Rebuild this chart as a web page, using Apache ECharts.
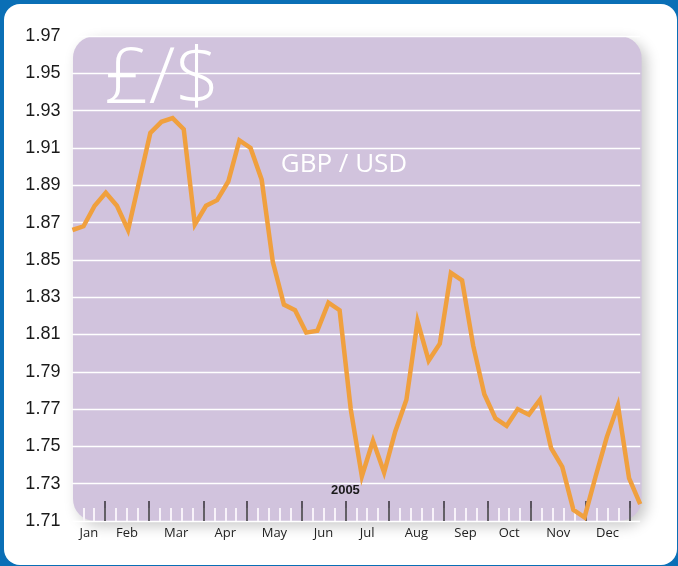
<!DOCTYPE html>
<html><head><meta charset="utf-8">
<script src="https://cdn.jsdelivr.net/npm/echarts@6/dist/echarts.min.js"></script>
<style>html,body{margin:0;padding:0;background:#0a6fb6;}#c{width:678px;height:566px;}</style>
</head><body><div id="c"></div>
<script>
// ---- data ----
const rates = [1.866, 1.868, 1.879, 1.886, 1.879, 1.866, 1.892, 1.918, 1.924, 1.926,
  1.920, 1.869, 1.879, 1.882, 1.892, 1.914, 1.910, 1.893, 1.849, 1.826,
  1.823, 1.811, 1.812, 1.827, 1.823, 1.770, 1.734, 1.753, 1.736, 1.758,
  1.775, 1.817, 1.796, 1.805, 1.843, 1.839, 1.804, 1.778, 1.765, 1.761,
  1.770, 1.767, 1.775, 1.749, 1.739, 1.716, 1.712, 1.734, 1.755, 1.772,
  1.733, 1.719];
const weekCategories = rates.map((_, i) => 'W' + (i + 1));
const yMin = 1.71, yMax = 1.97, yStep = 0.02;
const monthNames = ['Jan','Feb','Mar','Apr','May','Jun','Jul','Aug','Sep','Oct','Nov','Dec'];
const monthStartWeek = [0, 3, 7, 12, 16, 21, 25, 29, 34, 38, 42, 47];
const yearEndWeek = 51;
const axisWeeks = 52;
const yearLabel = '2005';
const yearLabelWeek = 25;
const titleText = '£/$';
const subtitleText = 'GBP / USD';

// ---- layout ----
const G = { left: 72.4, top: 36, width: 567.8, height: 485 };
const nSlots = axisWeeks * 2 + 1; // half-week slots
const slotLabels = new Array(nSlots).fill('');
monthNames.forEach((m, i) => {
  const end = i + 1 < monthStartWeek.length ? monthStartWeek[i + 1] : yearEndWeek;
  slotLabels[Math.round((monthStartWeek[i] + end))] = m;
});
const yearSlots = new Array(nSlots).fill('');
yearSlots[yearLabelWeek * 2] = yearLabel;
const majorSlots = new Set(monthStartWeek.slice(1).concat([yearEndWeek]).map(w => w * 2));
const slotCats = slotLabels.map((s, i) => 'S' + i);

const chart = echarts.init(document.getElementById('c'), null, { renderer: 'canvas' });
chart.setOption({
  backgroundColor: '#0a6fb6',
  animation: false,
  graphic: [
    { type: 'rect', z: -20, silent: true,
      shape: { x: 4, y: 4, width: 673, height: 561, r: 16 },
      style: { fill: '#ffffff' } },
    { type: 'rect', z: -10, silent: true,
      shape: { x: G.left + 0.6, y: G.top, width: G.width + 0.8, height: G.height, r: 22 },
      style: { fill: '#d1c3dd', shadowBlur: 14, shadowOffsetX: 5, shadowOffsetY: 5, shadowColor: 'rgba(0,0,0,0.22)' } },
    { type: 'text', z: 5, silent: true,
      style: { text: titleText, x: 162, y: 81, textAlign: 'center', textVerticalAlign: 'middle',
        font: '300 78px "Open Sans"', fill: '#ffffff' } },
    { type: 'text', z: 5, silent: true,
      style: { text: subtitleText, x: 344, y: 165, textAlign: 'center', textVerticalAlign: 'middle',
        font: '26px "Open Sans"', fill: '#ffffff' } }
  ],
  grid: { left: G.left, top: G.top, width: G.width, height: G.height, containLabel: false },
  xAxis: [
    { type: 'category', data: weekCategories, boundaryGap: false, show: false },
    { type: 'category', data: slotCats, boundaryGap: false, position: 'bottom', offset: 0,
      axisLine: { show: false }, axisLabel: { show: false },
      axisTick: { show: true, inside: true, length: 13,
        interval: (i) => i % 2 === 0 && i >= 2 && i <= yearEndWeek * 2,
        lineStyle: { color: '#f7f2f9', width: 2 } },
      splitLine: { show: false } },
    { type: 'category', data: slotCats, boundaryGap: false, position: 'bottom', offset: 0,
      axisLine: { show: false },
      axisTick: { show: true, inside: true, length: 20,
        interval: (i) => majorSlots.has(i),
        lineStyle: { color: '#333036', width: 1.5 } },
      axisLabel: { show: true, interval: 0, margin: 6, hideOverlap: false,
        formatter: (v, i) => slotLabels[i] || '',
        fontFamily: 'Open Sans', fontSize: 13, color: '#222' },
      splitLine: { show: false } },
    { type: 'category', data: slotCats, boundaryGap: false, position: 'bottom', offset: 0,
      axisLine: { show: false }, axisTick: { show: false },
      axisLabel: { show: true, inside: true, interval: 0, margin: 24,
        formatter: (v, i) => yearSlots[i] || '',
        fontFamily: 'Liberation Sans', fontWeight: 'bold', fontSize: 13, color: '#1a1a1a' },
      splitLine: { show: false } }
  ],
  yAxis: {
    type: 'value', min: yMin, max: yMax, interval: yStep,
    axisLine: { show: false }, axisTick: { show: false },
    axisLabel: { margin: 12, formatter: (v) => v.toFixed(2),
      fontFamily: 'Liberation Sans', fontSize: 18, color: '#1a1a1a' },
    splitLine: { show: true, lineStyle: { color: '#ffffff', width: 1.3 } }
  },
  series: [{
    type: 'line', xAxisIndex: 0, data: rates, symbol: 'none', smooth: false,
    clip: false,
    lineStyle: { color: '#f0a03e', width: 4.5, cap: 'butt', join: 'miter' },
    z: 3
  }]
});
</script></body></html>
